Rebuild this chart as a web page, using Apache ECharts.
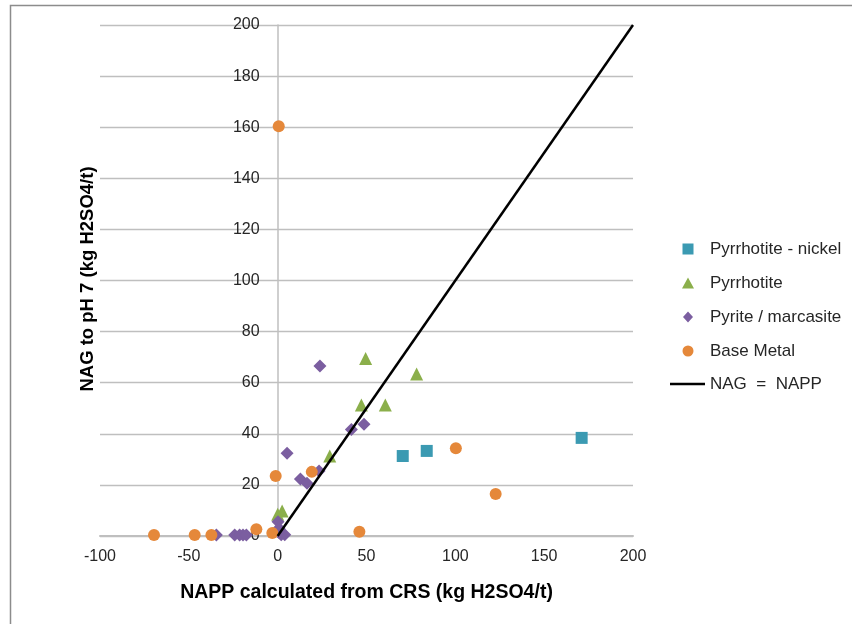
<!DOCTYPE html>
<html>
<head>
<meta charset="utf-8">
<script src="https://cdn.jsdelivr.net/npm/echarts@6/dist/echarts.min.js"></script>
<style>html,body{margin:0;padding:0;background:#fff}#c{width:852px;height:624px}</style>
</head>
<body>
<div id="c"></div>
<script>
// Data
const nickelX = [70.4, 83.9, 171.1];
const nickelY = [31.3, 33.3, 38.4];
const pyrrhotiteX = [49.5, 78.2, 47.1, 60.6, 29.3, 0.0, 2.5];
const pyrrhotiteY = [69.5, 63.4, 51.3, 51.3, 31.3, 8.5, 9.8];
const pyriteX = [23.8, 48.6, 41.5, 5.3, 23.3, 12.8, 16.5, 0.2, 0.7, 2.0, 4.0, 0.5, -34.5, -24.2, -21.4, -19.5, -17.6];
const pyriteY = [66.5, 43.7, 41.7, 32.4, 25.4, 22.3, 20.6, 5.6, 3.0, 0.5, 0.5, 1.5, 0.4, 0.4, 0.4, 0.4, 0.4];
const baseX = [0.6, -1.1, 19.2, 100.3, 122.7, 46.0, -69.6, -46.7, -37.3, -12.0, -3.0];
const baseY = [160.4, 23.5, 25.1, 34.3, 16.4, 1.7, 0.4, 0.4, 0.4, 2.6, 1.2];
const lineX = [0, 200];
const lineY = [0, 200];
const seriesNames = ['Pyrrhotite - nickel', 'Pyrrhotite', 'Pyrite / marcasite', 'Base Metal', 'NAG  =  NAPP'];
const xTitle = 'NAPP calculated from CRS (kg H2SO4/t)';
const yTitle = 'NAG to pH 7 (kg H2SO4/t)';

const zip = (xs, ys) => xs.map((x, i) => [x, ys[i]]);
const font = 'Liberation Sans';
const gridLeft = 100, gridRight = 219;
const plotW = 852 - gridLeft - gridRight;
// place the y axis where x = 0
const yAxisOffset = -plotW * (0 - (-100)) / (200 - (-100));

// legend icon shapes in a 29x11 box (corner anchors keep the box size), shape centred at x=12
const anchors = 'M0,0L0.001,0Z M29,11L28.999,11Z ';
const legendIcons = [
  'path://' + anchors + 'M6.5,0L17.5,0L17.5,11L6.5,11Z',
  'path://' + anchors + 'M12,0L18,11L6,11Z',
  'path://' + anchors + 'M12,0L17,5.5L12,11L7,5.5Z',
  'path://' + anchors + 'M6.5,5.5A5.5,5.5 0 1,0 17.5,5.5A5.5,5.5 0 1,0 6.5,5.5Z'
];

const chart = echarts.init(document.getElementById('c'), null, {renderer: 'canvas'});
const legendText = {color: '#262626', fontSize: 17, fontFamily: font, lineHeight: 18};
chart.setOption({
  animation: false,
  textStyle: {fontFamily: font},
  grid: {left: gridLeft, right: gridRight, top: 25, bottom: 88, containLabel: false},
  xAxis: {
    type: 'value', min: -100, max: 200, interval: 50,
    axisLine: {show: true, lineStyle: {color: '#BFBFBF', width: 2}},
    axisTick: {show: false},
    splitLine: {show: false},
    axisLabel: {color: '#262626', fontSize: 16, fontFamily: font, margin: 13},
    name: xTitle, nameLocation: 'middle', nameGap: 47,
    nameTextStyle: {color: '#000', fontSize: 19.5, fontWeight: 'bold', fontFamily: font}
  },
  yAxis: {
    type: 'value', min: 0, max: 200, interval: 20,
    offset: yAxisOffset,
    axisLine: {show: true, onZero: false, lineStyle: {color: '#BFBFBF', width: 1.5}},
    axisTick: {show: false},
    splitLine: {show: true, lineStyle: {color: '#BFBFBF', width: 1.3}},
    axisLabel: {color: '#262626', fontSize: 16, fontFamily: font, margin: 18}
  },
  legend: [
    {
      orient: 'vertical', left: 671, top: 235, itemGap: 16,
      itemWidth: 29, itemHeight: 11,
      textStyle: legendText,
      data: seriesNames.slice(0, 4).map((n, i) => ({name: n, icon: legendIcons[i]}))
    },
    {
      orient: 'vertical', left: 665, top: 370,
      itemWidth: 35, itemHeight: 2.5,
      textStyle: legendText,
      data: [{name: seriesNames[4], icon: 'rect', itemStyle: {color: '#000'}}]
    }
  ],
  graphic: [
    {type: 'rect', shape: {x: 10.5, y: 5.5, width: 900, height: 700},
     style: {fill: 'none', stroke: '#8C8C8C', lineWidth: 1.5}, silent: true, z: -1},
    {type: 'text', x: 88, y: 279, rotation: Math.PI / 2,
     style: {text: yTitle, fill: '#000', font: 'bold 18.5px ' + font, align: 'center', verticalAlign: 'middle'}}
  ],
  series: [
    {name: seriesNames[0], type: 'scatter', symbol: 'rect', symbolSize: 12,
     itemStyle: {color: '#3B9AB2', opacity: 1}, data: zip(nickelX, nickelY)},
    {name: seriesNames[1], type: 'scatter', symbol: 'triangle', symbolSize: 13,
     itemStyle: {color: '#8BAF4B', opacity: 1}, data: zip(pyrrhotiteX, pyrrhotiteY)},
    {name: seriesNames[2], type: 'scatter', symbol: 'diamond', symbolSize: 13,
     itemStyle: {color: '#7B5EA0', opacity: 1}, data: zip(pyriteX, pyriteY)},
    {name: seriesNames[3], type: 'scatter', symbol: 'circle', symbolSize: 12,
     itemStyle: {color: '#E5883A', opacity: 1}, data: zip(baseX, baseY)},
    {name: seriesNames[4], type: 'line', symbol: 'none', showSymbol: false,
     lineStyle: {color: '#000', width: 2.5}, itemStyle: {color: '#000'},
     data: zip(lineX, lineY), z: 3}
  ]
});
</script>
</body>
</html>
